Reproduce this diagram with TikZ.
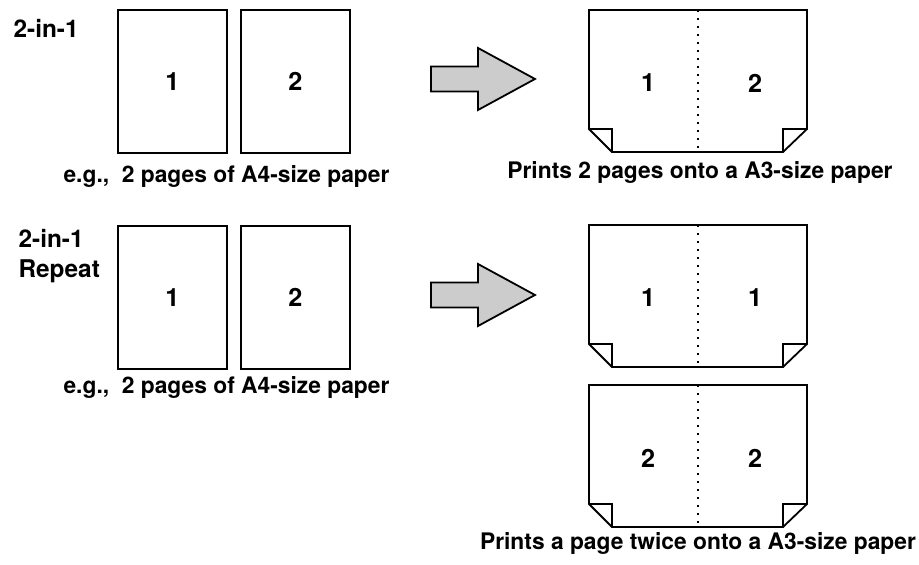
\documentclass[tikz,border=0pt]{standalone}
\usepackage{fontspec}
\setmainfont{TeX Gyre Heros}
\usepackage{tikz}
\usetikzlibrary{arrows.meta}
\newcommand{\myscale}{0.5}
% folded A3 sheet, top edge at y=#1
\newcommand{\foldsheet}[1]{%
  \draw (589,#1) -- (807,#1) -- (807,{#1+119}) -- (783,{#1+142})
    -- (612,{#1+142}) -- (589,{#1+119}) -- cycle;
  \draw (589,{#1+119}) -- (612,{#1+119}) -- (612,{#1+142});
  \draw (807,{#1+119}) -- (783,{#1+119}) -- (783,{#1+142});
  \draw[foldline] (698,#1) -- (698,{#1+142});
}
% grey block arrow, centred at y=#1
\newcommand{\printarrow}[1]{%
  \draw[fill=black!20] (431,{#1-12.5}) -- (478,{#1-12.5}) -- (478,{#1-31})
    -- (535,#1) -- (478,{#1+31}) -- (478,{#1+12.5}) -- (431,{#1+12.5}) -- cycle;
}

\begin{document}
\begin{tikzpicture}[x=\myscale pt, y=-\myscale pt, line width=0.9pt,
  every node/.style={font=\bfseries\fontsize{11.4}{15}\selectfont},
  digit/.style={font=\bfseries\fontsize{12.6}{15}\selectfont},
  mode/.style={anchor=base west, font=\bfseries\fontsize{12.2}{15}\selectfont},
  page/.style={digit, draw, line width=0.9pt, inner sep=0pt,
    minimum width=54.5pt, minimum height=71.5pt},
  foldline/.style={line width=1.1pt, dash pattern=on 1.1pt off 2.9pt}]
  \useasboundingbox (0,0) rectangle (919,565);

  % Row 1
  \node[mode] (modea) at (6,38) {2-in-1};
  \node[page] (pa1) at (172.5,81.5) {1};
  \node[page] (pa2) at (295.5,81.5) {2};
  \node[anchor=base east] (capa) at (397,183) {e.g.,\ \ 2 pages of A4-size paper};
  \printarrow{79}
  \foldsheet{10}
  \node[digit] (sa1) at (648,83) {1};
  \node[digit] (sa2) at (755,83) {2};
  \node[anchor=base] (capb) at (700,179) {Prints 2 pages onto a A3-size paper};

  % Row 2
  \node[mode] (modeb) at (11,248) {2-in-1};
  \node[mode] (modec) at (11,278) {Repeat};
  \node[page] (pb1) at (172.5,297.5) {1};
  \node[page] (pb2) at (295.5,297.5) {2};
  \node[anchor=base east] (capc) at (397,394) {e.g.,\ \ 2 pages of A4-size paper};
  \printarrow{295}
  \foldsheet{225}
  \node[digit] (sb1) at (648,298) {1};
  \node[digit] (sb2) at (755,298) {1};
  \foldsheet{385}
  \node[digit] (sc1) at (648,458.5) {2};
  \node[digit] (sc2) at (755,458.5) {2};
  \node[anchor=base] (capd) at (698,549) {Prints a page twice onto a A3-size paper};
\end{tikzpicture}
\end{document}
